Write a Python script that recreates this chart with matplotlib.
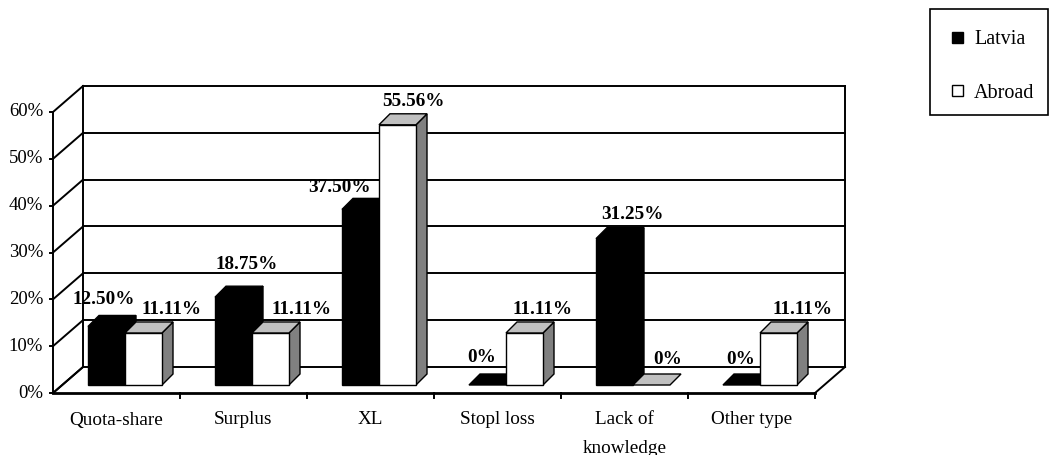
import matplotlib
matplotlib.use("Agg")
import matplotlib.pyplot as plt
from matplotlib.patches import Polygon, Rectangle

# ---- data ----
categories = ["Quota-share", "Surplus", "XL", "Stopl loss", "Lack of\nknowledge", "Other type"]
latvia = [12.50, 18.75, 37.50, 0.0, 31.25, 0.0]
abroad = [11.11, 11.11, 55.56, 11.11, 0.0, 11.11]
series_names = ["Latvia", "Abroad"]
y_ticks = [0, 10, 20, 30, 40, 50, 60]

W, H, DPI = 1049, 455, 100
fig = plt.figure(figsize=(W / DPI, H / DPI), dpi=DPI)
fig.patch.set_facecolor("white")

# front plane of the 3-D box: x in category units, y in percent
ax_left, ax_bottom, ax_w, ax_h = 53, 62, 762, 281
ax = fig.add_axes([ax_left / W, ax_bottom / H, ax_w / W, ax_h / H])
n = len(categories)
ax.set_xlim(0, n)
ax.set_ylim(0, 60)
ax.axis("off")

px_x = ax_w / n        # pixels per category
px_y = ax_h / 60.0     # pixels per percent


def dx(p):
    return p / px_x


def dy(p):
    return p / px_y


SERIF = ["Liberation Serif", "DejaVu Serif"]
LW = 1.4
k = dict(clip_on=False)

# depth of the floor / walls
fdx, fdy = dx(30), dy(26)
# placement of the bar row and depth of each bar
rdx, rdy = dx(9), dy(8)
bdx, bdy = dx(11), dy(11)

# back wall gridlines
for v in y_ticks:
    ax.plot([fdx, n + fdx], [v + fdy, v + fdy], color="black", lw=LW, **k)
    # left wall diagonals
    ax.plot([0, fdx], [v, v + fdy], color="black", lw=LW, **k)
    # tick marks on value axis
    ax.plot([dx(-3.5), 0], [v, v], color="black", lw=LW, **k)
    ax.text(dx(-10), v, f"{v}%", ha="right", va="center", fontsize=13.5,
            family=SERIF, **k)

# wall edges
ax.plot([fdx, fdx], [fdy, 60 + fdy], color="black", lw=LW, **k)
ax.plot([n + fdx, n + fdx], [fdy, 60 + fdy], color="black", lw=LW, **k)
ax.plot([0, 0], [0, 60], color="black", lw=LW, **k)

# bars
bar_w = dx(37)
gap_left = dx(26)
label_off_x = [(-2.5, 28.5), (13.5, 31.5), (-21, 15.5), (-5.5, 18.5), (17.5, 16.5), (-0.5, 24.5)]
label_off_y = [(-15.5, -12), (-22, -12), (-10.5, -12), (-17, -12), (-13, -14), (-14, -12)]


def draw_bar(x0, value, front, top, side, z):
    base = rdy
    x0 = x0 + rdx
    x1 = x0 + bar_w
    t = base + value
    if value > 0:
        ax.add_patch(Polygon([(x1, base), (x1 + bdx, base + bdy), (x1 + bdx, t + bdy), (x1, t)],
                             closed=True, facecolor=side, edgecolor="black", lw=1.0, zorder=z, **k))
        ax.add_patch(Rectangle((x0, base), bar_w, value, facecolor=front,
                               edgecolor="black", lw=1.0, zorder=z, **k))
    ax.add_patch(Polygon([(x0, t), (x1, t), (x1 + bdx, t + bdy), (x0 + bdx, t + bdy)],
                         closed=True, facecolor=top, edgecolor="black", lw=1.0, zorder=z, **k))
    return (x0 + x1) / 2, t + bdy


for i in range(n):
    xa = i + gap_left
    cl, tl = draw_bar(xa, latvia[i], "black", "black", "black", 3 + 2 * i)
    ca, ta = draw_bar(xa + bar_w, abroad[i], "white", "#c0c0c0", "#808080", 4 + 2 * i)
    for (c, t, v, ox, oy) in [(cl, tl, latvia[i], label_off_x[i][0], label_off_y[i][0]),
                              (ca, ta, abroad[i], label_off_x[i][1], label_off_y[i][1])]:
        txt = "0%" if v == 0 else f"{v:.2f}%"
        ax.text(c + dx(ox), t - dy(oy), txt, ha="center", va="center", fontsize=13.8,
                fontweight="bold", family=SERIF, zorder=20, **k)

# floor edges
ax.plot([0, fdx], [0, fdy], color="black", lw=LW, zorder=30, **k)
ax.plot([0, n], [0, 0], color="black", lw=2.0, zorder=30, **k)
ax.plot([n, n + fdx], [0, fdy], color="black", lw=LW, zorder=30, **k)
for i in range(1, n + 1):
    ax.plot([i, i], [0, dy(-5)], color="black", lw=LW, zorder=30, **k)

# category labels
for i, c in enumerate(categories):
    ax.text(i + 0.5, dy(-18.5), c, ha="center", va="top", fontsize=13.8,
            family=SERIF, linespacing=1.85, **k)

# legend box
fig.patches.append(Rectangle((930 / W, 1 - 115 / H), 118 / W, 106 / H, transform=fig.transFigure,
                             facecolor="white", edgecolor="black", lw=1.2))
for (yc, fc, name) in [(40, "black", series_names[0]), (93, "white", series_names[1])]:
    fig.patches.append(Rectangle((952 / W, 1 - (yc + 3) / H), 11 / W, 11 / H,
                                 transform=fig.transFigure, facecolor=fc,
                                 edgecolor="black", lw=1.0))
    fig.text(974 / W, 1 - yc / H, name, ha="left", va="center", fontsize=14.5, family=SERIF)

fig.savefig("out.png", dpi=DPI, facecolor="white")
